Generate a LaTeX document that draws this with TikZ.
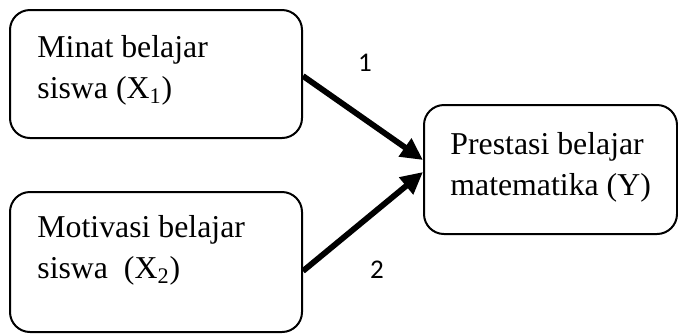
\documentclass[tikz,border=0pt]{standalone}
\usepackage{fontspec}
\setmainfont{Liberation Serif}
\newfontfamily\calibfont{Carlito}
\usetikzlibrary{arrows.meta}
\begin{document}
\begin{tikzpicture}[x=0.5pt,y=-0.5pt,
  box/.style={draw,line width=1pt,rounded corners=10pt,inner sep=0pt},
  txt/.style={font=\fontsize{15.9}{20.5}\selectfont,align=left,inner sep=0pt,anchor=base west},
  lbl/.style={font=\calibfont\fontsize{13.5}{16}\selectfont,inner sep=0pt,anchor=base},
  arr/.style={line width=2.9pt,-{Triangle[length=11pt,width=10.5pt]}}]
\useasboundingbox (0,0) rectangle (678,333);
\node[box,minimum width=146pt,minimum height=64pt] (b1) at (156,74) {};
\node[box,minimum width=146pt,minimum height=70pt] (b2) at (156,262) {};
\node[box,minimum width=126.5pt,minimum height=64.5pt] (by) at (550.5,169.5) {};
\node[txt] (t1) at (37,98) {Minat belajar\\siswa (X\textsubscript{1})};
\node[txt] (t2) at (37,278) {Motivasi belajar\\siswa\ \ (X\textsubscript{2})};
\node[txt] (t3) at (450,195) {Prestasi belajar\\matematika (Y)};
\draw[arr] ([yshift=-1pt]b1.east) -- ([yshift=4.75pt]by.west);
\draw[arr] ([yshift=-4.5pt]b2.east) -- ([yshift=-1.25pt]by.west);
\node[lbl] (l1) at (365,71) {1};
\node[lbl] (l2) at (377,278) {2};
\end{tikzpicture}
\end{document}
